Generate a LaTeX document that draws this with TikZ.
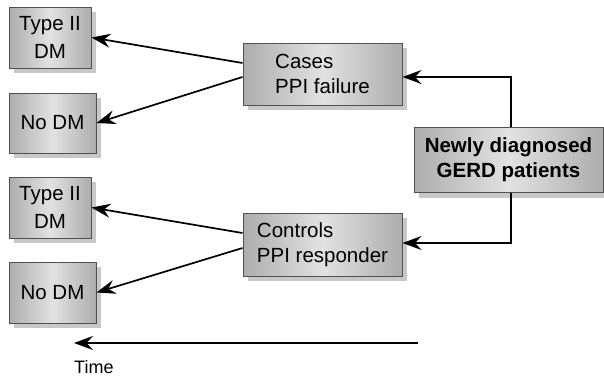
\documentclass[tikz,border=0pt]{standalone}
\usepackage{fontspec}
\setmainfont{Liberation Sans}
\usetikzlibrary{arrows.meta,shadows}
\definecolor{boxedge}{HTML}{505050}
\definecolor{boxside}{HTML}{ADADAD}
\definecolor{boxmid}{HTML}{E2E2E2}
\definecolor{shadowgray}{HTML}{C8C8C8}
\tikzset{
  gbox/.style={draw=boxedge, line width=1pt, rectangle, inner sep=0pt,
    left color=boxside, right color=boxside, middle color=boxmid,
    drop shadow={shadow xshift=5pt, shadow yshift=-5pt, fill=shadowgray, opacity=1},
    font=\fontsize{20.5}{25}\selectfont},
  conn/.style={line width=1.7pt, -{Stealth[length=19pt,width=14pt,inset=6.5pt]}},
}
\begin{document}
\begin{tikzpicture}[x=1pt,y=-1pt]
\useasboundingbox (0,0) rectangle (604,376);
\node[gbox, minimum width=82pt, minimum height=61pt, align=center, font=\fontsize{20.5}{28}\selectfont] (t1) at (50,37.5) {Type II\\DM};
\node[gbox, minimum width=87pt, minimum height=60pt] (n1) at (52.5,123) {No DM};
\node[gbox, minimum width=82pt, minimum height=61pt, align=center, font=\fontsize{20.5}{28}\selectfont] (t2) at (50,207.5) {Type II\\DM};
\node[gbox, minimum width=87pt, minimum height=61pt] (n2) at (52.5,292.5) {No DM};
\node[gbox, minimum width=159pt, minimum height=62pt, align=left] (cases) at (322.5,74) {Cases\\PPI failure};
\node[gbox, minimum width=159pt, minimum height=63pt, align=left] (controls) at (322.5,244.5) {Controls\\PPI responder};
\node[gbox, minimum width=189pt, minimum height=65pt, align=center, font=\bfseries\fontsize{20.5}{25}\selectfont] (gerd) at (508.5,160) {Newly diagnosed\\GERD patients};
\draw[conn] ([yshift=11pt]cases.west) -- (t1.east);
\draw[conn] ([yshift=-3pt]cases.west) -- (n1.east);
\draw[conn] ([yshift=11.5pt]controls.west) -- (t2.east);
\draw[conn] ([yshift=-3.5pt]controls.west) -- (n2.east);
\draw[conn] ([xshift=2.5pt]gerd.north) |- ([yshift=-3pt]cases.east);
\draw[conn] ([xshift=2.5pt]gerd.south) |- ([yshift=1.5pt]controls.east);
\coordinate (tstart) at (418,343);
\coordinate (tend) at (74,343);
\draw[conn] (tstart) -- (tend);
\node[anchor=west, inner sep=0pt, font=\fontsize{18}{20}\selectfont] (time) at (74,367) {Time};
\end{tikzpicture}
\end{document}
